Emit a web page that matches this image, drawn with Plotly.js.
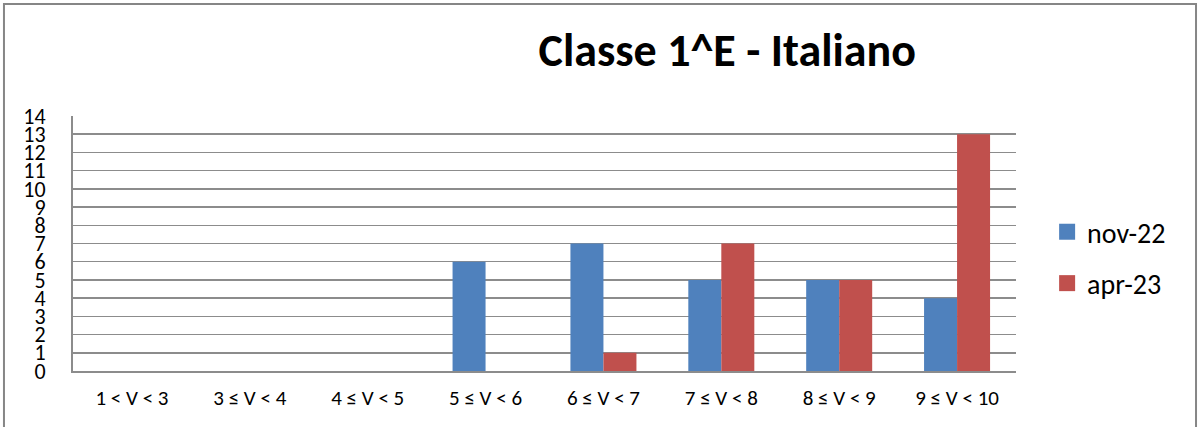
<!DOCTYPE html>
<html><head><meta charset="utf-8">
<script src="https://cdn.plot.ly/plotly-3.0.1.min.js"></script>
<style>html,body{margin:0;padding:0;background:#fff}#chart{width:1202px;height:427px}</style>
</head><body><div id="chart"></div>
<script>
const categories = ["1 < V < 3","3 ≤ V < 4","4 ≤ V < 5","5 ≤ V < 6","6 ≤ V < 7","7 ≤ V < 8","8 ≤ V < 9","9 ≤ V < 10"];
const nov22 = [0,0,0,6,7,5,5,4];
const apr23 = [0,0,0,0,1,7,5,13];
const seriesNames = ["nov-22","apr-23"];
const seriesColors = ['#4F81BD','#C0504D'];
const yTicks = [0,1,2,3,4,5,6,7,8,9,10,11,12,13,14];

const FONT = "Carlito, 'Open Sans', 'Noto Sans', sans-serif";
const traces = [
  {type:'bar', x:categories, y:nov22, name:seriesNames[0], marker:{color:seriesColors[0]}, showlegend:false},
  {type:'bar', x:categories, y:apr23, name:seriesNames[1], marker:{color:seriesColors[1]}, showlegend:false},
  {type:'scatter', mode:'markers', x:[categories[0]], y:[null], name:seriesNames[0], marker:{symbol:'square', size:18, color:seriesColors[0], line:{width:0}}, legendgroup:'a'},
  {type:'scatter', mode:'markers', x:[categories[0]], y:[null], name:seriesNames[1], marker:{symbol:'square', size:18, color:seriesColors[1], line:{width:0}}, legendgroup:'b'}
];
const layout = {
  width:1202, height:427,
  margin:{l:73, r:186, t:116, b:56, pad:0},
  paper_bgcolor:'#fff', plot_bgcolor:'#fff',
  font:{family:FONT, color:'#000'},
  barmode:'group', bargap:0.44, bargroupgap:0,
  title:{text:'<b>Classe 1^E - Italiano</b>', font:{size:46, family:FONT, color:'#000'}, xref:'container', x:0.605, xanchor:'center', yref:'container', y:0.883, yanchor:'middle'},
  xaxis:{type:'category', showgrid:false, showline:true, linecolor:'#8c8c8c', linewidth:2, ticks:'', tickfont:{size:21}, ticklabelstandoff:7, fixedrange:true},
  yaxis:{range:[0,14], tickvals:yTicks, ticktext:yTicks.map(String), showgrid:true, gridcolor:'#8c8c8c', gridwidth:1.5, showline:true, linecolor:'#8c8c8c', linewidth:2, zeroline:false, ticks:'', tickfont:{size:22}, ticklabelstandoff:21, fixedrange:true},
  legend:{x:1.033, xanchor:'left', y:0.643, yanchor:'top', font:{size:28}, traceorder:'grouped', tracegroupgap:12, bgcolor:'rgba(0,0,0,0)'},
  shapes:[{type:'rect', xref:'paper', yref:'paper', x0:-0.0732, x1:1.1909, y0:-0.3, y1:1.439, line:{color:'#868686', width:2}, fillcolor:'rgba(0,0,0,0)', layer:'below'}]
};
Plotly.newPlot('chart', traces, layout, {displayModeBar:false, staticPlot:true});
</script></body></html>
